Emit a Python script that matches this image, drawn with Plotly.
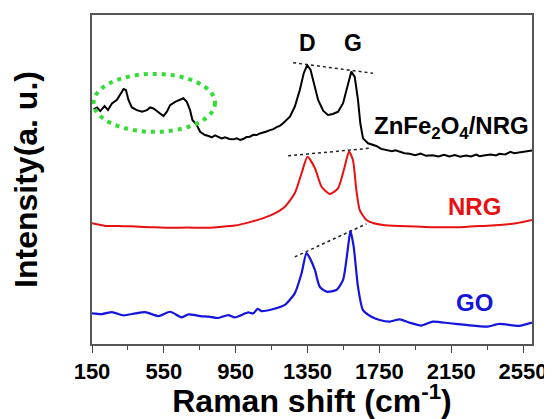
import plotly.graph_objects as go

# Raman shift (cm^-1) and intensity (a.u., offset stacked)
zn_x = [159, 178, 196, 220, 239, 261, 289, 307, 326, 339, 353, 372, 400, 428, 456, 474, 492, 511, 529, 548,
        567, 585, 613, 641, 659, 678, 696, 709, 733, 752, 779, 800, 817, 835, 853, 872, 891, 915, 937, 956,
        975, 992, 1010, 1029, 1048, 1067, 1085, 1103, 1122, 1141, 1160, 1178, 1196, 1214, 1233, 1252, 1279, 1307, 1329, 1348,
        1367, 1385, 1409, 1437, 1464, 1492, 1520, 1548, 1576, 1594, 1613, 1631, 1644, 1659, 1687, 1710, 1733, 1760, 1789, 1820,
        1840, 1863, 1890, 1918, 1950, 1980, 2010, 2046, 2080, 2110, 2140, 2170, 2200, 2233, 2260, 2290, 2307, 2340, 2370, 2400,
        2418, 2450, 2480, 2500, 2529, 2560, 2600]
zn_y = [71.3, 71.9, 70.8, 72.3, 71.1, 73.1, 74.2, 75.7, 77.5, 77.2, 74.2, 71.9, 71.1, 70.6, 71.1, 71.9, 71.6, 70.8, 70.0, 69.3,
        70.6, 72.6, 73.6, 74.4, 74.7, 73.6, 71.1, 68.1, 66.6, 64.5, 63.5, 63.2, 62.8, 63.4, 63.0, 62.5, 62.8, 62.3, 62.2, 62.5,
        62.0, 62.3, 62.9, 63.0, 63.6, 63.5, 64.0, 64.2, 64.6, 65.0, 65.3, 65.9, 66.3, 67.1, 68.0, 69.1, 72.1, 77.2, 82.3, 84.8,
        83.3, 79.2, 74.2, 70.9, 69.6, 69.9, 70.6, 73.2, 79.2, 82.8, 81.2, 74.2, 67.1, 62.5, 61.0, 60.6, 60.2, 59.3, 59.0, 58.6,
        58.9, 58.5, 58.0, 57.8, 57.4, 57.9, 57.2, 57.4, 57.0, 57.5, 57.0, 57.4, 56.9, 57.3, 57.0, 57.6, 57.1, 57.4, 57.6, 57.3,
        57.8, 57.6, 58.4, 58.0, 58.2, 58.6, 58.8]

nrg_x = [150, 224, 300, 391, 480, 576, 680, 779, 860, 946, 1039, 1100, 1168, 1224, 1279, 1317, 1350, 1391, 1428, 1474,
         1520, 1557, 1581, 1603, 1622, 1641, 1678, 1720, 1770, 1860, 1956, 2050, 2141, 2230, 2326, 2420, 2511, 2600]
nrg_y = [36.7, 35.9, 35.9, 35.7, 35.5, 35.3, 35.4, 35.3, 35.6, 36.0, 37.2, 38.2, 39.7, 41.7, 45.8, 51.9, 56.9, 53.5, 47.8, 45.6,
         47.3, 53.9, 58.5, 55.9, 46.8, 40.7, 37.7, 36.7, 36.2, 35.9, 35.7, 35.5, 35.5, 35.6, 35.9, 36.2, 36.7, 37.7]

go_x = [150, 206, 261, 326, 391, 446, 520, 585, 650, 687, 752, 800, 853, 909, 946, 1020, 1048, 1072, 1094, 1150,
        1224, 1279, 1317, 1344, 1363, 1391, 1418, 1456, 1511, 1548, 1576, 1589, 1607, 1631, 1659, 1706, 1752, 1807, 1863, 1918,
        1983, 2048, 2141, 2233, 2353, 2418, 2529, 2600]
go_y = [9.3, 9.1, 9.7, 8.7, 9.3, 9.7, 8.5, 9.8, 8.1, 9.0, 8.5, 8.3, 7.9, 8.8, 8.1, 9.6, 9.3, 10.7, 10.0, 10.5,
        11.9, 15.4, 21.5, 27.6, 26.1, 22.5, 17.4, 15.9, 16.4, 19.5, 29.6, 34.4, 29.6, 17.4, 10.3, 8.3, 7.3, 6.8, 7.5, 6.5,
        5.6, 6.8, 6.3, 5.8, 5.3, 6.1, 5.5, 6.5]

# guide lines joining D and G peaks: [x0, x1], [y0, y1]
zn_guide_x, zn_guide_y = [1270, 1714], [85.5, 82.3]
nrg_guide_x, nrg_guide_y = [1242, 1696], [57.2, 59.5]
go_guide_x, go_guide_y = [1279, 1678], [26.5, 36.5]

x_ticks = [150, 550, 950, 1350, 1750, 2150, 2550]
x_minor = [350, 750, 1150, 1550, 1950, 2350]

FONT = "Arial, Liberation Sans, sans-serif"

fig = go.Figure()
for gx, gy in [(zn_guide_x, zn_guide_y), (nrg_guide_x, nrg_guide_y), (go_guide_x, go_guide_y)]:
    fig.add_trace(go.Scatter(x=gx, y=gy, mode="lines", showlegend=False,
                             line=dict(color="#222222", width=1.5, dash="3px,3px")))
fig.add_trace(go.Scatter(x=zn_x, y=zn_y, mode="lines", name="ZnFe2O4/NRG",
                         line=dict(color="#000000", width=2)))
fig.add_trace(go.Scatter(x=nrg_x, y=nrg_y, mode="lines", name="NRG",
                         line=dict(color="#e81010", width=2, shape="spline", smoothing=0.6)))
fig.add_trace(go.Scatter(x=go_x, y=go_y, mode="lines", name="GO",
                         line=dict(color="#1414dc", width=2.2, shape="spline", smoothing=0.6)))

fig.add_shape(type="circle", xref="x", yref="y", x0=159, x1=835, y0=64.5, y1=82.1,
              line=dict(color="#33dd33", width=4, dash="4px,5px"))

ann = [
    dict(x=1352, y=91.5, text="D", font=dict(size=23, color="#000")),
    dict(x=1602, y=91.5, text="G", font=dict(size=23, color="#000")),
    dict(x=2150, y=65.7, text="ZnFe<sub>2</sub>O<sub>4</sub>/NRG", font=dict(size=24, color="#000")),
    dict(x=2280, y=41.7, text="NRG", font=dict(size=24, color="#e81010")),
    dict(x=2280, y=12.5, text="GO", font=dict(size=24, color="#1414dc")),
]
for a in ann:
    a["font"].update(family=FONT, weight="bold")
    fig.add_annotation(xref="x", yref="y", showarrow=False, **a)

# page body has an 8px margin, so the figure is sized/offset to compensate
fig.update_layout(
    width=544, height=411,
    margin=dict(l=84, r=20, t=7, b=75),
    plot_bgcolor="white", paper_bgcolor="white",
    showlegend=False,
    font=dict(family=FONT, color="#000"),
)
fig.update_xaxes(
    range=[150, 2600], tickvals=x_ticks, ticktext=[str(v) for v in x_ticks],
    automargin=False, ticklabeloverflow="allow",
    showgrid=False, zeroline=False, showline=True, mirror=True, linecolor="#555", linewidth=1.5,
    ticks="outside", ticklen=7, tickwidth=1.2, tickcolor="#444",
    minor=dict(tickvals=x_minor, ticklen=4, tickcolor="#444", ticks="outside"),
    tickfont=dict(size=22, family=FONT, weight="bold"),
    ticklabelstandoff=0,
    title=dict(text="Raman shift (cm<sup>-1</sup>)", font=dict(size=32, family=FONT, weight="bold"), standoff=15),
)
fig.update_yaxes(
    range=[0, 100], showticklabels=False, ticks="", automargin=False,
    showgrid=False, zeroline=False, showline=True, mirror=True, linecolor="#555", linewidth=1.5,
    title=dict(text="Intensity(a. u.)", font=dict(size=32, family=FONT, weight="bold"), standoff=48),
)

fig.write_html("out.html")
